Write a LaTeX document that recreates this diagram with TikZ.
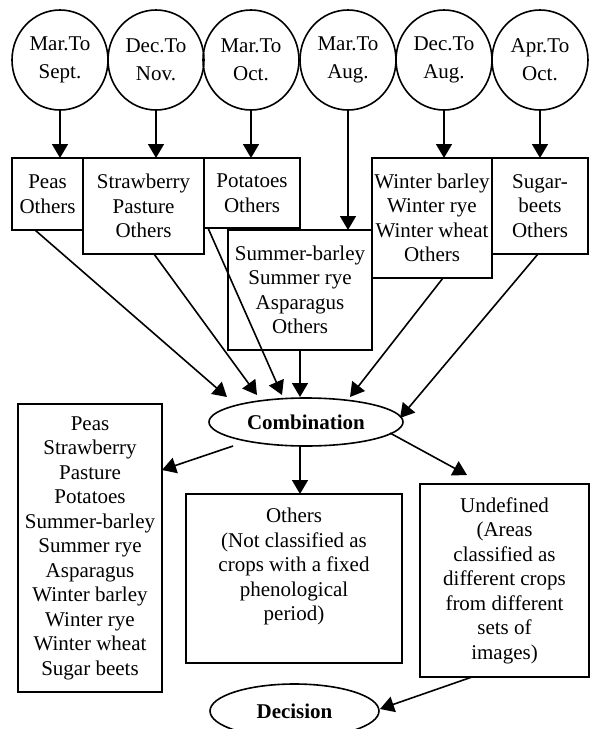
\documentclass[tikz,border=0pt]{standalone}
\usepackage{fontspec}
\setmainfont{Liberation Serif}
\usetikzlibrary{arrows.meta,shapes.geometric,calc}
\begin{document}
\begin{tikzpicture}[x=1pt,y=-1pt,
  every node/.style={inner sep=0pt, outer sep=0pt},
  period/.style={draw, line width=1.6pt, ellipse, minimum width=96pt, minimum height=100pt, align=center, font=\fontsize{21}{28}\selectfont},
  cropbox/.style={draw, line width=1.6pt, rectangle, align=center, font=\fontsize{21}{24.5}\selectfont},
  oval/.style={draw, line width=1.6pt, ellipse, font=\fontsize{21}{24.5}\selectfont\bfseries},
  conn/.style={line width=1.6pt, -{Triangle[length=14pt,width=16pt]}},
]
\useasboundingbox (0,0) rectangle (590,729);

% period circles
\node[period] (c1) at (60,60)  {Mar.To\\Sept.};
\node[period] (c2) at (156,60) {Dec.To\\Nov.};
\node[period] (c3) at (251,60) {Mar.To\\Oct.};
\node[period] (c4) at (348,60) {Mar.To\\Aug.};
\node[period] (c5) at (444,60) {Dec.To\\Aug.};
\node[period] (c6) at (540,60) {Apr.To\\Oct.};

% crop boxes
\node[cropbox, minimum width=71pt, minimum height=72pt]  (peas)   at (47.5,194) {Peas\\Others};
\node[cropbox, minimum width=121pt, minimum height=96pt] (straw)  at (143.5,206) {Strawberry\\Pasture\\Others};
\node[cropbox, minimum width=96pt, minimum height=70pt]  (pot)    at (252,193) {Potatoes\\Others};
\node[cropbox, minimum width=144pt, minimum height=120pt] (summer) at (300,290) {Summer-barley\\Summer rye\\Asparagus\\Others};
\node[cropbox, minimum width=120pt, minimum height=120pt] (winter) at (432,218) {Winter barley\\Winter rye\\Winter wheat\\Others};
\node[cropbox, minimum width=96pt, minimum height=96pt]  (sugar)  at (540,206) {Sugar-\\beets\\Others};

% combination
\node[oval, minimum width=194pt, minimum height=48pt] (comb) at (306,422) {Combination};

% results
\node[cropbox, minimum width=144pt, minimum height=288pt] (list) at (90,548)
  {Peas\\Strawberry\\Pasture\\Potatoes\\Summer-barley\\Summer rye\\Asparagus\\Winter barley\\Winter rye\\Winter wheat\\Sugar beets};
\node[draw, line width=1.6pt, rectangle, font=\fontsize{21}{24.5}\selectfont] (others) at (294,578.5)
  {\parbox[c][169pt][t]{216pt}{\centering\vspace*{14pt}Others\\(Not classified as\\crops with a fixed\\phenological\\period)}};
\node[cropbox, minimum width=169pt, minimum height=193pt] (undef) at (504.5,580.5)
  {Undefined\\(Areas\\classified as\\different crops\\from different\\sets of\\images)};

\node[oval, minimum width=169pt, minimum height=54pt] (dec) at (294.5,711) {Decision};

% circle -> box arrows
\draw[conn] (c1.south) -- (c1.south |- peas.north);
\draw[conn] (c2.south) -- (c2.south |- straw.north);
\draw[conn] (c3.south) -- (c3.south |- pot.north);
\draw[conn] (c4.south) -- (c4.south |- summer.north);
\draw[conn] (c5.south) -- (c5.south |- winter.north);
\draw[conn] (c6.south) -- (c6.south |- sugar.north);

% box -> combination
\draw[conn] ([shift={(-12.5,0)}]peas.south) -- ([shift={(-79,-25)}]comb.center);
\draw[conn] ([shift={(10.5,0)}]straw.south) -- ([shift={(-49,-27)}]comb.center);
\draw[conn] ([shift={(4,0)}]pot.south west) -- ([shift={(-24,-27)}]comb.center);
\draw[conn] (summer.south) -- ([shift={(-6,-25)}]comb.center);
\draw[conn] ([shift={(11,0)}]winter.south) -- ([shift={(44,-25)}]comb.center);
\draw[conn] ([shift={(-2,0)}]sugar.south) -- ([shift={(94,-4)}]comb.center);

% combination -> results
\draw[conn] ([shift={(-73,24)}]comb.center) -- ([shift={(0,-78)}]list.east);
\draw[conn] ([shift={(-6,24)}]comb.center) -- ([shift={(6,0)}]others.north);
\draw[conn] ([shift={(84,11)}]comb.center) -- ([shift={(-37.5,-9)}]undef.north);
\draw[conn] ([shift={(-32.5,0)}]undef.south) -- ([shift={(1,-2)}]dec.east);
\end{tikzpicture}
\end{document}
